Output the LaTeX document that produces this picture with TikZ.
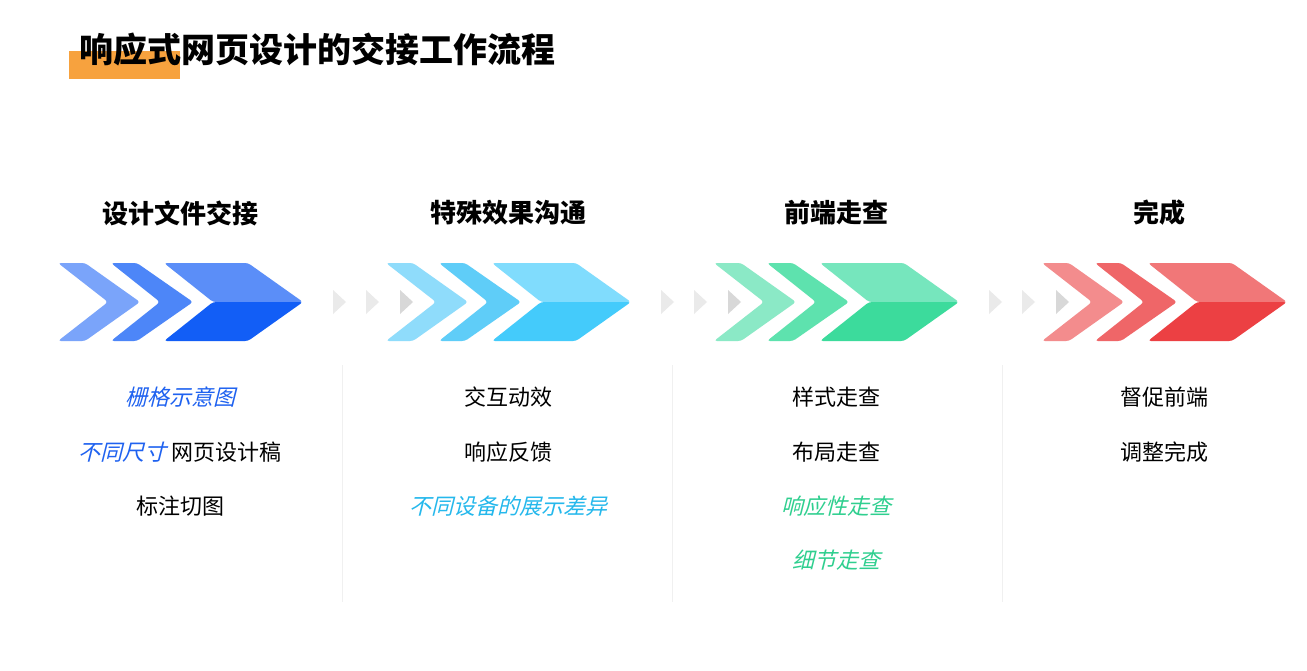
\documentclass[tikz,border=0pt]{standalone}
\usepackage{fontspec}
\setmainfont{Noto Sans CJK SC}
\newfontfamily\slantfont{Noto Sans CJK SC}[FakeSlant=0.25]
\definecolor{titleorange}{RGB}{247, 162, 62}
\definecolor{blueA}{RGB}{122, 164, 250}
\definecolor{blueB}{RGB}{77, 134, 248}
\definecolor{blueC}{RGB}{91, 142, 248}
\definecolor{blueD}{RGB}{18, 94, 246}
\definecolor{cyanA}{RGB}{143, 220, 251}
\definecolor{cyanB}{RGB}{95, 205, 248}
\definecolor{cyanC}{RGB}{128, 220, 253}
\definecolor{cyanD}{RGB}{68, 203, 251}
\definecolor{greenA}{RGB}{139, 233, 198}
\definecolor{greenB}{RGB}{94, 226, 174}
\definecolor{greenC}{RGB}{118, 230, 189}
\definecolor{greenD}{RGB}{60, 219, 156}
\definecolor{redA}{RGB}{243, 140, 141}
\definecolor{redB}{RGB}{239, 102, 104}
\definecolor{redC}{RGB}{241, 119, 120}
\definecolor{redD}{RGB}{236, 64, 67}
\definecolor{noteblue}{RGB}{31, 98, 240}
\definecolor{notecyan}{RGB}{37, 184, 236}
\definecolor{notegreen}{RGB}{47, 207, 143}
\definecolor{trilight}{RGB}{234, 234, 234}
\definecolor{tridark}{RGB}{216, 216, 216}
\usetikzlibrary{positioning}
% one row of three chevrons, drawn at the scope origin
\newcommand{\chevrongroup}[4]{%
  \fill[#1, rounded corners=3pt] (0,263) -- (27,263) -- (82,302) -- (27,341) -- (0,341) -- (50,302) -- cycle;
  \fill[#2, rounded corners=3pt] (53,263) -- (79,263) -- (135,302) -- (79,341) -- (53,341) -- (102,302) -- cycle;
  \fill[#3, rounded corners=3pt] (106,263) -- (190,263) -- (245,302) -- (155,302) -- cycle; % top half
  \fill[#4, rounded corners=3pt] (155,302) -- (245,302) -- (190,341) -- (106,341) -- cycle; % bottom half
}

\begin{document}
\begin{tikzpicture}[x=1pt, y=-1pt,
  heading/.style={font=\fontsize{26}{30}\selectfont\bfseries, inner sep=0pt},
  item/.style={font=\fontsize{22}{26}\selectfont, inner sep=0pt},
  note/.style={font=\fontsize{22}{26}\selectfont\slantfont, inner sep=0pt},
  sepline/.style={draw=black!6, line width=0.8pt},
  tri/.style={fill=trilight}]
  \useasboundingbox[fill=white] (0,0) rectangle (1307,670);

  % Title with orange marker
  \fill[titleorange] (69,51) rectangle (180,79);
  \node[anchor=west, font=\fontsize{34}{38}\selectfont\bfseries, inner sep=0pt] (title) at (79,50) {响应式网页设计的交接工作流程};

  % Step 1: design handoff
  \begin{scope}[xshift=58pt]
    \chevrongroup{blueA}{blueB}{blueC}{blueD}
    \fill[tri] (275,290) -- (288,302) -- (275,314) -- cycle;
    \fill[tri] (308,290) -- (321,302) -- (308,314) -- cycle;
    \fill[tridark] (342,290) -- (355,302) -- (342,314) -- cycle;
    \node[heading] (head1) at (122,213) {设计文件交接};
    \node[note, text=noteblue] (item1a) at (122,397) {栅格示意图};
    \node[item] (item1b) at (122,452) {{\slantfont\color{noteblue}不同尺寸} 网页设计稿};
    \node[item] (item1c) at (122,506) {标注切图};
  \end{scope}

  % Step 2: special effects
  \begin{scope}[xshift=386pt]
    \chevrongroup{cyanA}{cyanB}{cyanC}{cyanD}
    \fill[tri] (275,290) -- (288,302) -- (275,314) -- cycle;
    \fill[tri] (308,290) -- (321,302) -- (308,314) -- cycle;
    \fill[tridark] (342,290) -- (355,302) -- (342,314) -- cycle;
    \node[heading] (head2) at (122,213) {特殊效果沟通};
    \node[item] (item2a) at (122,397) {交互动效};
    \node[item] (item2b) at (122,452) {响应反馈};
    \node[note, text=notecyan] (item2c) at (122,506) {不同设备的展示差异};
  \end{scope}

  % Step 3: front-end walkthrough
  \begin{scope}[xshift=714pt]
    \chevrongroup{greenA}{greenB}{greenC}{greenD}
    \fill[tri] (275,290) -- (288,302) -- (275,314) -- cycle;
    \fill[tri] (308,290) -- (321,302) -- (308,314) -- cycle;
    \fill[tridark] (342,290) -- (355,302) -- (342,314) -- cycle;
    \node[heading] (head3) at (122,213) {前端走查};
    \node[item] (item3a) at (122,397) {样式走查};
    \node[item] (item3b) at (122,452) {布局走查};
    \node[note, text=notegreen] (item3c) at (122,506) {响应性走查};
    \node[note, text=notegreen] (item3d) at (122,560) {细节走查};
  \end{scope}

  % Step 4: done
  \begin{scope}[xshift=1042pt]
    \chevrongroup{redA}{redB}{redC}{redD}
    \node[heading] (head4) at (117,213) {完成};
    \node[item] (item4a) at (122,397) {督促前端};
    \node[item] (item4b) at (122,452) {调整完成};
  \end{scope}

  % Column separators
  \draw[sepline] (342,365) -- (342,602);
  \draw[sepline] (672,365) -- (672,602);
  \draw[sepline] (1002,365) -- (1002,602);
\end{tikzpicture}
\end{document}
